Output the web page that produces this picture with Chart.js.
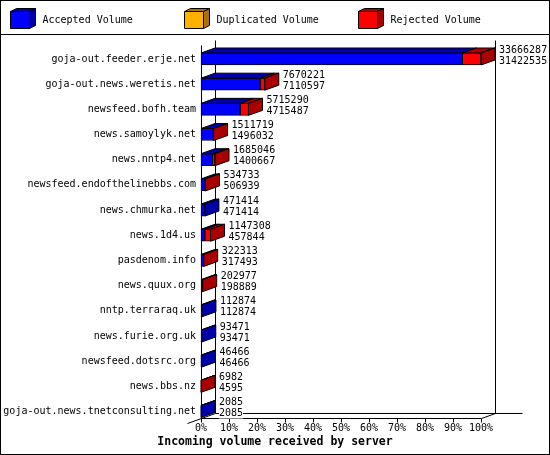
<!DOCTYPE html>
<html>
<head>
<meta charset="utf-8">
<script src="https://cdn.jsdelivr.net/npm/chart.js@4.4.1/dist/chart.umd.min.js"></script>
<style>
  html, body { margin: 0; padding: 0; background: #fff; }
  canvas { display: block; }
</style>
</head>
<body>
<canvas id="volumeChart" width="550" height="455"></canvas>
<script>
// feed servers, top to bottom
const servers = [
  "goja-out.feeder.erje.net",
  "goja-out.news.weretis.net",
  "newsfeed.bofh.team",
  "news.samoylyk.net",
  "news.nntp4.net",
  "newsfeed.endofthelinebbs.com",
  "news.chmurka.net",
  "news.1d4.us",
  "pasdenom.info",
  "news.quux.org",
  "nntp.terraraq.uk",
  "news.furie.org.uk",
  "newsfeed.dotsrc.org",
  "news.bbs.nz",
  "goja-out.news.tnetconsulting.net"
];
// offered volume (first number) and accepted volume (second number)
const totalVolume = [33666287, 7670221, 5715290, 1511719, 1685046, 534733, 471414, 1147308, 322313, 202977, 112874, 93471, 46466, 6982, 2085];
const acceptedVolume = [31422535, 7110597, 4715487, 1496032, 1400667, 506939, 471414, 457844, 317493, 198889, 112874, 93471, 46466, 4595, 2085];
const duplicatedVolume = [0, 0, 0, 0, 0, 0, 0, 0, 0, 0, 0, 0, 0, 0, 0];
const seriesNames = ["Accepted Volume", "Duplicated Volume", "Rejected Volume"];
const xTicks = [0, 10, 20, 30, 40, 50, 60, 70, 80, 90, 100];

const rejectedVolume = totalVolume.map((t, i) => t - acceptedVolume[i] - duplicatedVolume[i]);
const maxVolume = Math.max(...totalVolume);
const toPct = (arr) => arr.map(v => v / maxVolume * 100);

const FONT = "'DejaVu Sans Mono', 'Liberation Mono', monospace";
const frontColors = ["#0000ff", "#ffb000", "#ff0000"];
const shadeColors = ["#0000aa", "#aa7300", "#aa0000"];
const DX = 14, DY = 5; // 3d depth

const px = v => Math.round(v) + 0.5;

function poly(ctx, pts, fill) {
  ctx.beginPath();
  ctx.moveTo(pts[0][0], pts[0][1]);
  for (let i = 1; i < pts.length; i++) ctx.lineTo(pts[i][0], pts[i][1]);
  ctx.closePath();
  ctx.fillStyle = fill;
  ctx.fill();
  ctx.stroke();
}

function cube(ctx, x, y, w, h, dx, dy, fc, sc) {
  poly(ctx, [[x, y], [x + w, y], [x + w + dx, y - dy], [x + dx, y - dy]], sc);
  poly(ctx, [[x + w, y], [x + w + dx, y - dy], [x + w + dx, y + h - dy], [x + w, y + h]], sc);
  poly(ctx, [[x, y], [x + w, y], [x + w, y + h], [x, y + h]], fc);
}

const bars3d = {
  id: "bars3d",
  beforeDraw(chart) {
    const { ctx, width, height } = chart;
    ctx.save();
    ctx.fillStyle = "#fff";
    ctx.fillRect(0, 0, width, height);
    ctx.restore();
  },
  beforeDatasetsDraw(chart) {
    const { ctx } = chart;
    const { x, y } = chart.scales;
    const left = px(x.left), right = px(x.right);
    const floorF = px(y.bottom + 6), floorB = floorF - DY;
    const topB = px(y.top - 19), topF = topB + DY;
    const seg = (x1, y1, x2, y2) => { ctx.moveTo(x1, y1); ctx.lineTo(x2, y2); };
    ctx.save();
    ctx.strokeStyle = "#000";
    ctx.lineWidth = 1;
    ctx.beginPath();
    seg(left, topF, left, floorF);
    seg(left + DX, topB, left + DX, floorB);
    seg(right + DX, topB, right + DX, floorB);
    seg(left + DX, floorB, right + DX + 27, floorB);
    seg(left, floorF, right, floorF);
    seg(left - DX, floorF + DY, left + DX, floorB);
    seg(right, floorF, right + DX, floorB);
    xTicks.forEach(v => {
      const tx = px(x.getPixelForValue(v));
      seg(tx, floorF, tx, floorF + 4);
    });
    ctx.stroke();
    ctx.restore();
  },
  afterDatasetsDraw(chart) {
    const { ctx } = chart;
    const sets = chart.data.datasets;
    ctx.save();
    ctx.strokeStyle = "#000";
    ctx.lineWidth = 1;
    servers.forEach((name, i) => {
      let last = null;
      sets.forEach((ds, k) => {
        if (!(ds.data[i] > 0)) return;
        const el = chart.getDatasetMeta(k).data[i];
        const p = el.getProps(["x", "y", "base", "height"], true);
        const top = p.y - p.height / 2;
        poly(ctx, [[p.base, top], [p.x, top], [p.x + DX, top - DY], [p.base + DX, top - DY]], shadeColors[k]);
        last = { p, k };
      });
      if (!last) return;
      const { p, k } = last;
      const top = p.y - p.height / 2, bottom = p.y + p.height / 2;
      poly(ctx, [[p.x, top], [p.x + DX, top - DY], [p.x + DX, bottom - DY], [p.x, bottom]], shadeColors[k]);

      ctx.font = `10px ${FONT}`;
      ctx.textBaseline = "middle";
      ctx.textAlign = "left";
      const tx = p.x + DX + 4;
      [totalVolume[i], acceptedVolume[i]].forEach((v, j) => {
        const ty = p.y - 9 + j * 11;
        const s = String(v);
        const w = ctx.measureText(s).width;
        ctx.fillStyle = "#fff";
        ctx.fillRect(tx, ty - 5, w, 10);
        ctx.fillStyle = "#000";
        ctx.fillText(s, tx, ty);
      });
    });
    ctx.restore();
  },
  afterDraw(chart) {
    const { ctx, width, height } = chart;
    ctx.save();
    ctx.strokeStyle = "#000";
    ctx.lineWidth = 1;
    ctx.strokeRect(0.5, 0.5, width - 1, height - 1);
    ctx.beginPath();
    ctx.moveTo(0, 34.5);
    ctx.lineTo(width, 34.5);
    ctx.stroke();

    // legend
    ctx.font = `10px ${FONT}`;
    ctx.textBaseline = "middle";
    ctx.textAlign = "left";
    chart.data.datasets.forEach((ds, k) => {
      const bx = 10.5 + k * 174, by = 11.5;
      cube(ctx, bx, by, 19, 17, 6, 3, ds.backgroundColor, shadeColors[k]);
      ctx.fillStyle = "#000";
      ctx.fillText(ds.label, bx + 32, 20);
    });

    // axis title, centred on the image
    ctx.font = `bold 11.5px ${FONT}`;
    ctx.textAlign = "center";
    ctx.fillText("Incoming volume received by server", width / 2, 442);
    ctx.restore();
  }
};

const ctx = document.getElementById("volumeChart");
new Chart(ctx, {
  type: "bar",
  data: {
    labels: servers,
    datasets: seriesNames.map((name, k) => ({
      label: name,
      data: toPct([acceptedVolume, duplicatedVolume, rejectedVolume][k]),
      backgroundColor: frontColors[k],
      borderColor: "#000",
      borderWidth: 1,
      borderSkipped: false,
      barThickness: 12,
      clip: false
    }))
  },
  options: {
    indexAxis: "y",
    responsive: false,
    animation: false,
    layout: { padding: { left: 2, top: 59, right: 69, bottom: 10.5 } },
    plugins: {
      legend: { display: false },
      tooltip: { enabled: false },
      title: { display: false }
    },
    scales: {
      x: {
        type: "linear",
        min: 0,
        max: 100,
        stacked: true,
        grid: { display: false, drawTicks: false },
        border: { display: false },
        afterBuildTicks: (s) => { s.ticks = xTicks.map(v => ({ value: v })); },
        ticks: {
          padding: 10.5,
          color: "#000",
          maxRotation: 0,
          autoSkip: false,
          font: { family: FONT, size: 10 },
          callback: (v) => v + "%"
        }
      },
      y: {
        stacked: true,
        offset: false,
        grid: { display: false, drawTicks: false },
        border: { display: false },
        afterFit: (s) => { s.width = 199; },
        ticks: {
          autoSkip: false,
          padding: 5,
          color: "#000",
          font: { family: FONT, size: 10 }
        }
      }
    }
  },
  plugins: [bars3d]
});
</script>
</body>
</html>
